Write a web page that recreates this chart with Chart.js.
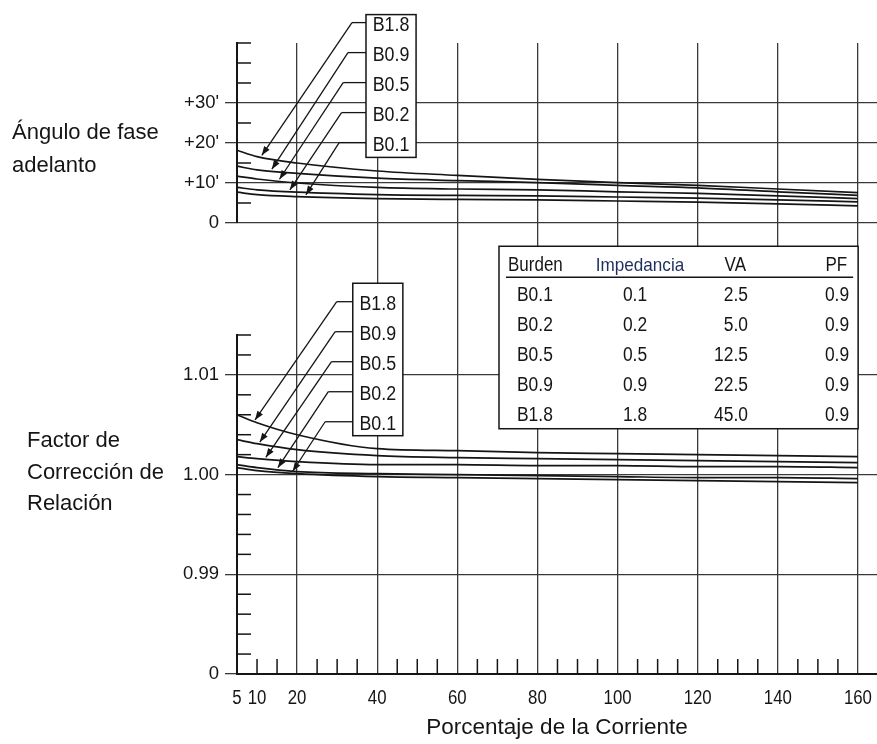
<!DOCTYPE html>
<html>
<head>
<meta charset="utf-8">
<script src="https://cdn.jsdelivr.net/npm/chart.js@4.4.1/dist/chart.umd.min.js"></script>
<style>
  html, body { margin: 0; padding: 0; background: #ffffff; }
  #wrap { position: relative; width: 877px; height: 744px; }
  canvas { display: block; }
</style>
</head>
<body>
<div id="wrap"><canvas id="c" width="877" height="744"></canvas></div>
<script>
// ---------------- DATA ----------------
const currentPct = [5, 10, 20, 40, 60, 80, 100, 120, 140, 160];

const burdenNames = ['B0.1', 'B0.2', 'B0.5', 'B0.9', 'B1.8'];
const impedance   = ['0.1', '0.2', '0.5', '0.9', '1.8'];
const voltAmps    = ['2.5', '5.0', '12.5', '22.5', '45.0'];
const powerFactor = ['0.9', '0.9', '0.9', '0.9', '0.9'];
const tableHeader = ['Burden', 'Impedancia', 'VA', 'PF'];

// Phase angle (minutes, leading)
const angleB01 = [7.7, 7.1, 6.6, 6.1, 5.9, 5.8, 5.5, 5.2, 4.8, 4.3];
const angleB02 = [8.9, 8.3, 7.7, 7.1, 6.9, 6.8, 6.5, 6.2, 5.8, 5.3];
const angleB05 = [11.7, 11.0, 10.0, 8.9, 8.5, 8.3, 7.8, 7.4, 6.8, 6.1];
const angleB09 = [14.2, 13.3, 12.4, 11.2, 10.6, 10.1, 9.4, 8.8, 7.8, 6.9];
const angleB18 = [18.2, 16.6, 15.0, 13.0, 11.9, 10.9, 10.1, 9.4, 8.5, 7.6];

// Ratio correction factor
const rcfB01 = [1.0007, 1.0004, 1.0001, 0.9998, 0.9997, 0.9996, 0.9995, 0.9994, 0.9993, 0.9992];
const rcfB02 = [1.0010, 1.0007, 1.0003, 1.0001, 1.0000, 0.9999, 0.9998, 0.9997, 0.9997, 0.9996];
const rcfB05 = [1.0018, 1.0016, 1.0013, 1.0010, 1.0010, 1.0009, 1.0009, 1.0008, 1.0008, 1.0007];
const rcfB09 = [1.0035, 1.0031, 1.0025, 1.0019, 1.0017, 1.0016, 1.0015, 1.0014, 1.0013, 1.0012];
const rcfB18 = [1.0060, 1.0052, 1.0040, 1.0026, 1.0024, 1.0022, 1.0021, 1.0020, 1.0019, 1.0018];

// Tick labels
const xTickValues   = [5, 10, 20, 40, 60, 80, 100, 120, 140, 160];
const xTickLabels   = ['5', '10', '20', '40', '60', '80', '100', '120', '140', '160'];
const angleTickValues = [0, 10, 20, 30];
const angleTickLabels = ['0', "+10'", "+20'", "+30'"];
const rcfTickValues = [0.98, 0.99, 1.00, 1.01];
const rcfTickLabels = ['0', '0.99', '1.00', '1.01'];

const xAxisTitle = 'Porcentaje de la Corriente';
const angleTitle = ['Ángulo de fase', 'adelanto'];
const rcfTitle   = ['Factor de', 'Corrección de', 'Relación'];

// ---------------- STYLE ----------------
const INK = '#151515';
const GRID = '#3a3a3a';
const REGULAR = "'Liberation Sans', Arial, sans-serif";

function near(a, b) { return Math.abs(a - b) < 1e-6; }
function labelFor(values, labels, v) {
  for (let i = 0; i < values.length; i++) if (near(values[i], v)) return labels[i];
  return '';
}
function isMajor(values, v) { return values.some(m => near(m, v)); }
function interp(xs, ys, x) {
  for (let i = 0; i < xs.length - 1; i++) {
    if (x >= xs[i] && x <= xs[i + 1]) {
      const t = (x - xs[i]) / (xs[i + 1] - xs[i]);
      return ys[i] + t * (ys[i + 1] - ys[i]);
    }
  }
  return ys[ys.length - 1];
}
function pts(ys) { return currentPct.map((x, i) => ({ x: x, y: ys[i] })); }

// condensed text (Helvetica-Condensed look)
function narrowText(ctx, text, x, y, align, size, sx) {
  ctx.save();
  ctx.font = size + 'px ' + REGULAR;
  ctx.textAlign = align;
  ctx.translate(x, y);
  ctx.scale(sx, 1);
  ctx.fillText(text, 0, 0);
  ctx.restore();
}

const seriesStyle = {
  borderColor: INK, borderWidth: 1.7, pointRadius: 0, fill: false,
  cubicInterpolationMode: 'monotone'
};

const datasets = [
  { label: 'Ángulo B0.1', data: pts(angleB01), yAxisID: 'yA', ...seriesStyle },
  { label: 'Ángulo B0.2', data: pts(angleB02), yAxisID: 'yA', ...seriesStyle },
  { label: 'Ángulo B0.5', data: pts(angleB05), yAxisID: 'yA', ...seriesStyle },
  { label: 'Ángulo B0.9', data: pts(angleB09), yAxisID: 'yA', ...seriesStyle },
  { label: 'Ángulo B1.8', data: pts(angleB18), yAxisID: 'yA', ...seriesStyle },
  { label: 'FCR B0.1', data: pts(rcfB01), yAxisID: 'yR', ...seriesStyle },
  { label: 'FCR B0.2', data: pts(rcfB02), yAxisID: 'yR', ...seriesStyle },
  { label: 'FCR B0.5', data: pts(rcfB05), yAxisID: 'yR', ...seriesStyle },
  { label: 'FCR B0.9', data: pts(rcfB09), yAxisID: 'yR', ...seriesStyle },
  { label: 'FCR B1.8', data: pts(rcfB18), yAxisID: 'yR', ...seriesStyle }
];

// callouts (positions in axis units)
const callouts = [
  { axis: 'yA', box: [37.2, 49.7, 52.1, 16.4],
    labels: ['B1.8', 'B0.9', 'B0.5', 'B0.2', 'B0.1'],
    labelY: [50.1, 42.6, 35.1, 27.6, 20.1],
    elbowX: [33.7, 32.7, 31.5, 31.1, 30.5],
    tipX: [11.2, 13.7, 15.6, 18.2, 22.2],
    series: [angleB18, angleB09, angleB05, angleB02, angleB01] },
  { axis: 'yR', box: [33.9, 46.4, 1.01919, 1.00390],
    labels: ['B1.8', 'B0.9', 'B0.5', 'B0.2', 'B0.1'],
    labelY: [1.01734, 1.01433, 1.01132, 1.00831, 1.00530],
    elbowX: [29.9, 29.5, 28.6, 27.8, 27.0],
    tipX: [9.5, 10.7, 12.2, 15.2, 18.9],
    series: [rcfB18, rcfB09, rcfB05, rcfB02, rcfB01] }
];

function arrow(ctx, x0, y0, x1, y1) {
  ctx.beginPath(); ctx.moveTo(x0, y0); ctx.lineTo(x1, y1); ctx.stroke();
  const ang = Math.atan2(y1 - y0, x1 - x0);
  const L = 9, W = 3.3;
  ctx.beginPath();
  ctx.moveTo(x1, y1);
  ctx.lineTo(x1 - L * Math.cos(ang) + W * Math.sin(ang), y1 - L * Math.sin(ang) - W * Math.cos(ang));
  ctx.lineTo(x1 - L * Math.cos(ang) - W * Math.sin(ang), y1 - L * Math.sin(ang) + W * Math.cos(ang));
  ctx.closePath(); ctx.fill();
}

const deco = {
  id: 'deco',
  beforeDatasetsDraw(chart) {
    const ctx = chart.ctx, xs = chart.scales.x, yR = chart.scales.yR;
    ctx.save();
    ctx.strokeStyle = INK; ctx.fillStyle = '#fff'; ctx.lineWidth = 1.5;
    // table
    const tl = xs.getPixelForValue(70.4), tr = xs.getPixelForValue(160.05);
    const tt = yR.getPixelForValue(1.0229), tb = yR.getPixelForValue(1.0046);
    ctx.fillRect(tl, tt, tr - tl, tb - tt);
    ctx.strokeRect(tl, tt, tr - tl, tb - tt);
    ctx.beginPath(); ctx.moveTo(tl + 7, tt + 31); ctx.lineTo(tr - 5, tt + 31); ctx.stroke();
    ctx.fillStyle = INK; ctx.textBaseline = 'alphabetic';
    const hb = tt + 24.5;
    narrowText(ctx, tableHeader[0], tl + 9, hb, 'left', 20, 0.85);
    ctx.fillStyle = '#1d2f5c';
    narrowText(ctx, tableHeader[1], tl + 141, hb, 'center', 19, 0.9);
    ctx.fillStyle = INK;
    narrowText(ctx, tableHeader[2], tl + 247, hb, 'right', 20, 0.85);
    narrowText(ctx, tableHeader[3], tr - 11, hb, 'right', 20, 0.85);
    for (let i = 0; i < burdenNames.length; i++) {
      const y = tt + 55 + 30 * i;
      narrowText(ctx, burdenNames[i], tl + 18, y, 'left', 20.5, 0.85);
      narrowText(ctx, impedance[i], tl + 136, y, 'center', 20.5, 0.85);
      narrowText(ctx, voltAmps[i], tl + 249, y, 'right', 20.5, 0.85);
      narrowText(ctx, powerFactor[i], tr - 9, y, 'right', 20.5, 0.85);
    }
    // callout boxes
    callouts.forEach(c => {
      const ys = chart.scales[c.axis];
      const l = xs.getPixelForValue(c.box[0]), r = xs.getPixelForValue(c.box[1]);
      const t = ys.getPixelForValue(c.box[2]), b = ys.getPixelForValue(c.box[3]);
      ctx.fillStyle = '#fff';
      ctx.fillRect(l, t, r - l, b - t);
      ctx.strokeRect(l, t, r - l, b - t);
      ctx.fillStyle = INK; ctx.textBaseline = 'alphabetic';
      c.labels.forEach((lab, i) => narrowText(ctx, lab, (l + r) / 2, ys.getPixelForValue(c.labelY[i]) + 8, 'center', 20.5, 0.87));
    });
    ctx.restore();
  },
  afterDatasetsDraw(chart) {
    const ctx = chart.ctx, xs = chart.scales.x, yA = chart.scales.yA, yR = chart.scales.yR;
    ctx.save();
    // leaders with arrows
    ctx.strokeStyle = INK; ctx.fillStyle = INK; ctx.lineWidth = 1.3;
    callouts.forEach(c => {
      const ys = chart.scales[c.axis];
      const l = xs.getPixelForValue(c.box[0]);
      c.labels.forEach((lab, i) => {
        const ey = ys.getPixelForValue(c.labelY[i]);
        const ex = xs.getPixelForValue(c.elbowX[i]);
        const tx = xs.getPixelForValue(c.tipX[i]);
        const ty = ys.getPixelForValue(interp(currentPct, c.series[i], c.tipX[i])) - 2;
        ctx.beginPath(); ctx.moveTo(l, ey); ctx.lineTo(ex, ey); ctx.stroke();
        arrow(ctx, ex, ey, tx, ty);
      });
    });
    // inward minor ticks
    ctx.strokeStyle = INK; ctx.lineWidth = 1.5;
    const ax = xs.left;
    for (let v = 5; v <= 45; v += 5) {
      if (isMajor(angleTickValues, v)) continue;
      const y = yA.getPixelForValue(v);
      ctx.beginPath(); ctx.moveTo(ax, y); ctx.lineTo(ax + 14, y); ctx.stroke();
    }
    for (let k = 0; k <= 17; k++) {
      const v = Math.round((0.98 + k * 0.002) * 1000) / 1000;
      if (isMajor(rcfTickValues, v)) continue;
      const y = yR.getPixelForValue(v);
      ctx.beginPath(); ctx.moveTo(ax, y); ctx.lineTo(ax + 14, y); ctx.stroke();
    }
    const by = yR.getPixelForValue(0.98);
    for (let v = 10; v <= 160; v += 5) {
      if (v % 20 === 0) continue;
      const x = xs.getPixelForValue(v);
      ctx.beginPath(); ctx.moveTo(x, by); ctx.lineTo(x, by - 15); ctx.stroke();
    }
    // x tick labels (condensed)
    ctx.fillStyle = INK; ctx.textBaseline = 'alphabetic';
    xTickValues.forEach((v, i) => narrowText(ctx, xTickLabels[i], xs.getPixelForValue(v), by + 30, 'center', 20.5, 0.82));
    // side titles
    ctx.fillStyle = INK; ctx.font = '22px ' + REGULAR;
    ctx.textAlign = 'left'; ctx.textBaseline = 'alphabetic';
    ctx.fillText(angleTitle[0], 12, 139);
    ctx.fillText(angleTitle[1], 12, 172);
    ctx.fillText(rcfTitle[0], 27, 447);
    ctx.fillText(rcfTitle[1], 27, 478.5);
    ctx.fillText(rcfTitle[2], 27, 510);
    ctx.restore();
  }
};

const yWidth = s => { s.width = 237; };

new Chart(document.getElementById('c'), {
  type: 'line',
  data: { datasets: datasets },
  plugins: [deco],
  options: {
    responsive: false, animation: false, devicePixelRatio: 1,
    layout: { padding: { top: 43, left: 0, right: 0, bottom: 0 } },
    plugins: { legend: { display: false }, tooltip: { enabled: false } },
    scales: {
      x: {
        type: 'linear', position: 'bottom', min: 5, max: 164.76,
        afterBuildTicks: s => { s.ticks = xTickValues.map(v => ({ value: v })); },
        afterFit: s => { s.height = 70; },
        ticks: { display: false, autoSkip: false, maxRotation: 0, minRotation: 0 },
        grid: {
          drawTicks: false, lineWidth: 1.3,
          color: c => (c.tick && c.tick.value % 20 === 0) ? GRID : 'rgba(0,0,0,0)'
        },
        border: { display: true, color: INK, width: 2 },
        title: {
          display: true, text: xAxisTitle, color: INK,
          font: { family: REGULAR, size: 22.5 }, padding: { top: 0, bottom: 3 }
        }
      },
      yA: {
        type: 'linear', position: 'left', stack: 'panels', stackWeight: 180, weight: 3,
        min: 0, max: 45,
        afterBuildTicks: s => { s.ticks = [0, 5, 10, 15, 20, 25, 30, 35, 40, 45].map(v => ({ value: v })); },
        afterFit: yWidth,
        ticks: {
          autoSkip: false, padding: 6, color: INK, font: { family: REGULAR, size: 18.5 },
          callback: v => labelFor(angleTickValues, angleTickLabels, v)
        },
        grid: {
          drawTicks: true, tickLength: 12, lineWidth: 1.3,
          color: c => (c.tick && isMajor(angleTickValues, c.tick.value)) ? GRID : 'rgba(0,0,0,0)',
          tickColor: c => (c.tick && isMajor(angleTickValues, c.tick.value)) ? GRID : 'rgba(0,0,0,0)'
        },
        border: { display: true, color: INK, width: 2 }
      },
      yGap: {
        type: 'linear', position: 'left', stack: 'panels', stackWeight: 112, weight: 2,
        min: 0, max: 1, afterFit: yWidth,
        ticks: { display: false }, grid: { display: false }, border: { display: false }
      },
      yR: {
        type: 'linear', position: 'left', stack: 'panels', stackWeight: 339, weight: 1,
        min: 0.98, max: 1.014,
        afterBuildTicks: s => {
          const t = [];
          for (let k = 0; k <= 17; k++) t.push({ value: Math.round((0.98 + k * 0.002) * 1000) / 1000 });
          s.ticks = t;
        },
        afterFit: yWidth,
        ticks: {
          autoSkip: false, padding: 6, color: INK, font: { family: REGULAR, size: 18.5 },
          callback: v => labelFor(rcfTickValues, rcfTickLabels, v)
        },
        grid: {
          drawTicks: true, tickLength: 12, lineWidth: 1.3,
          color: c => (c.tick && isMajor(rcfTickValues, c.tick.value)) ? GRID : 'rgba(0,0,0,0)',
          tickColor: c => (c.tick && isMajor(rcfTickValues, c.tick.value)) ? GRID : 'rgba(0,0,0,0)'
        },
        border: { display: true, color: INK, width: 2 }
      }
    }
  }
});
</script>
</body>
</html>
